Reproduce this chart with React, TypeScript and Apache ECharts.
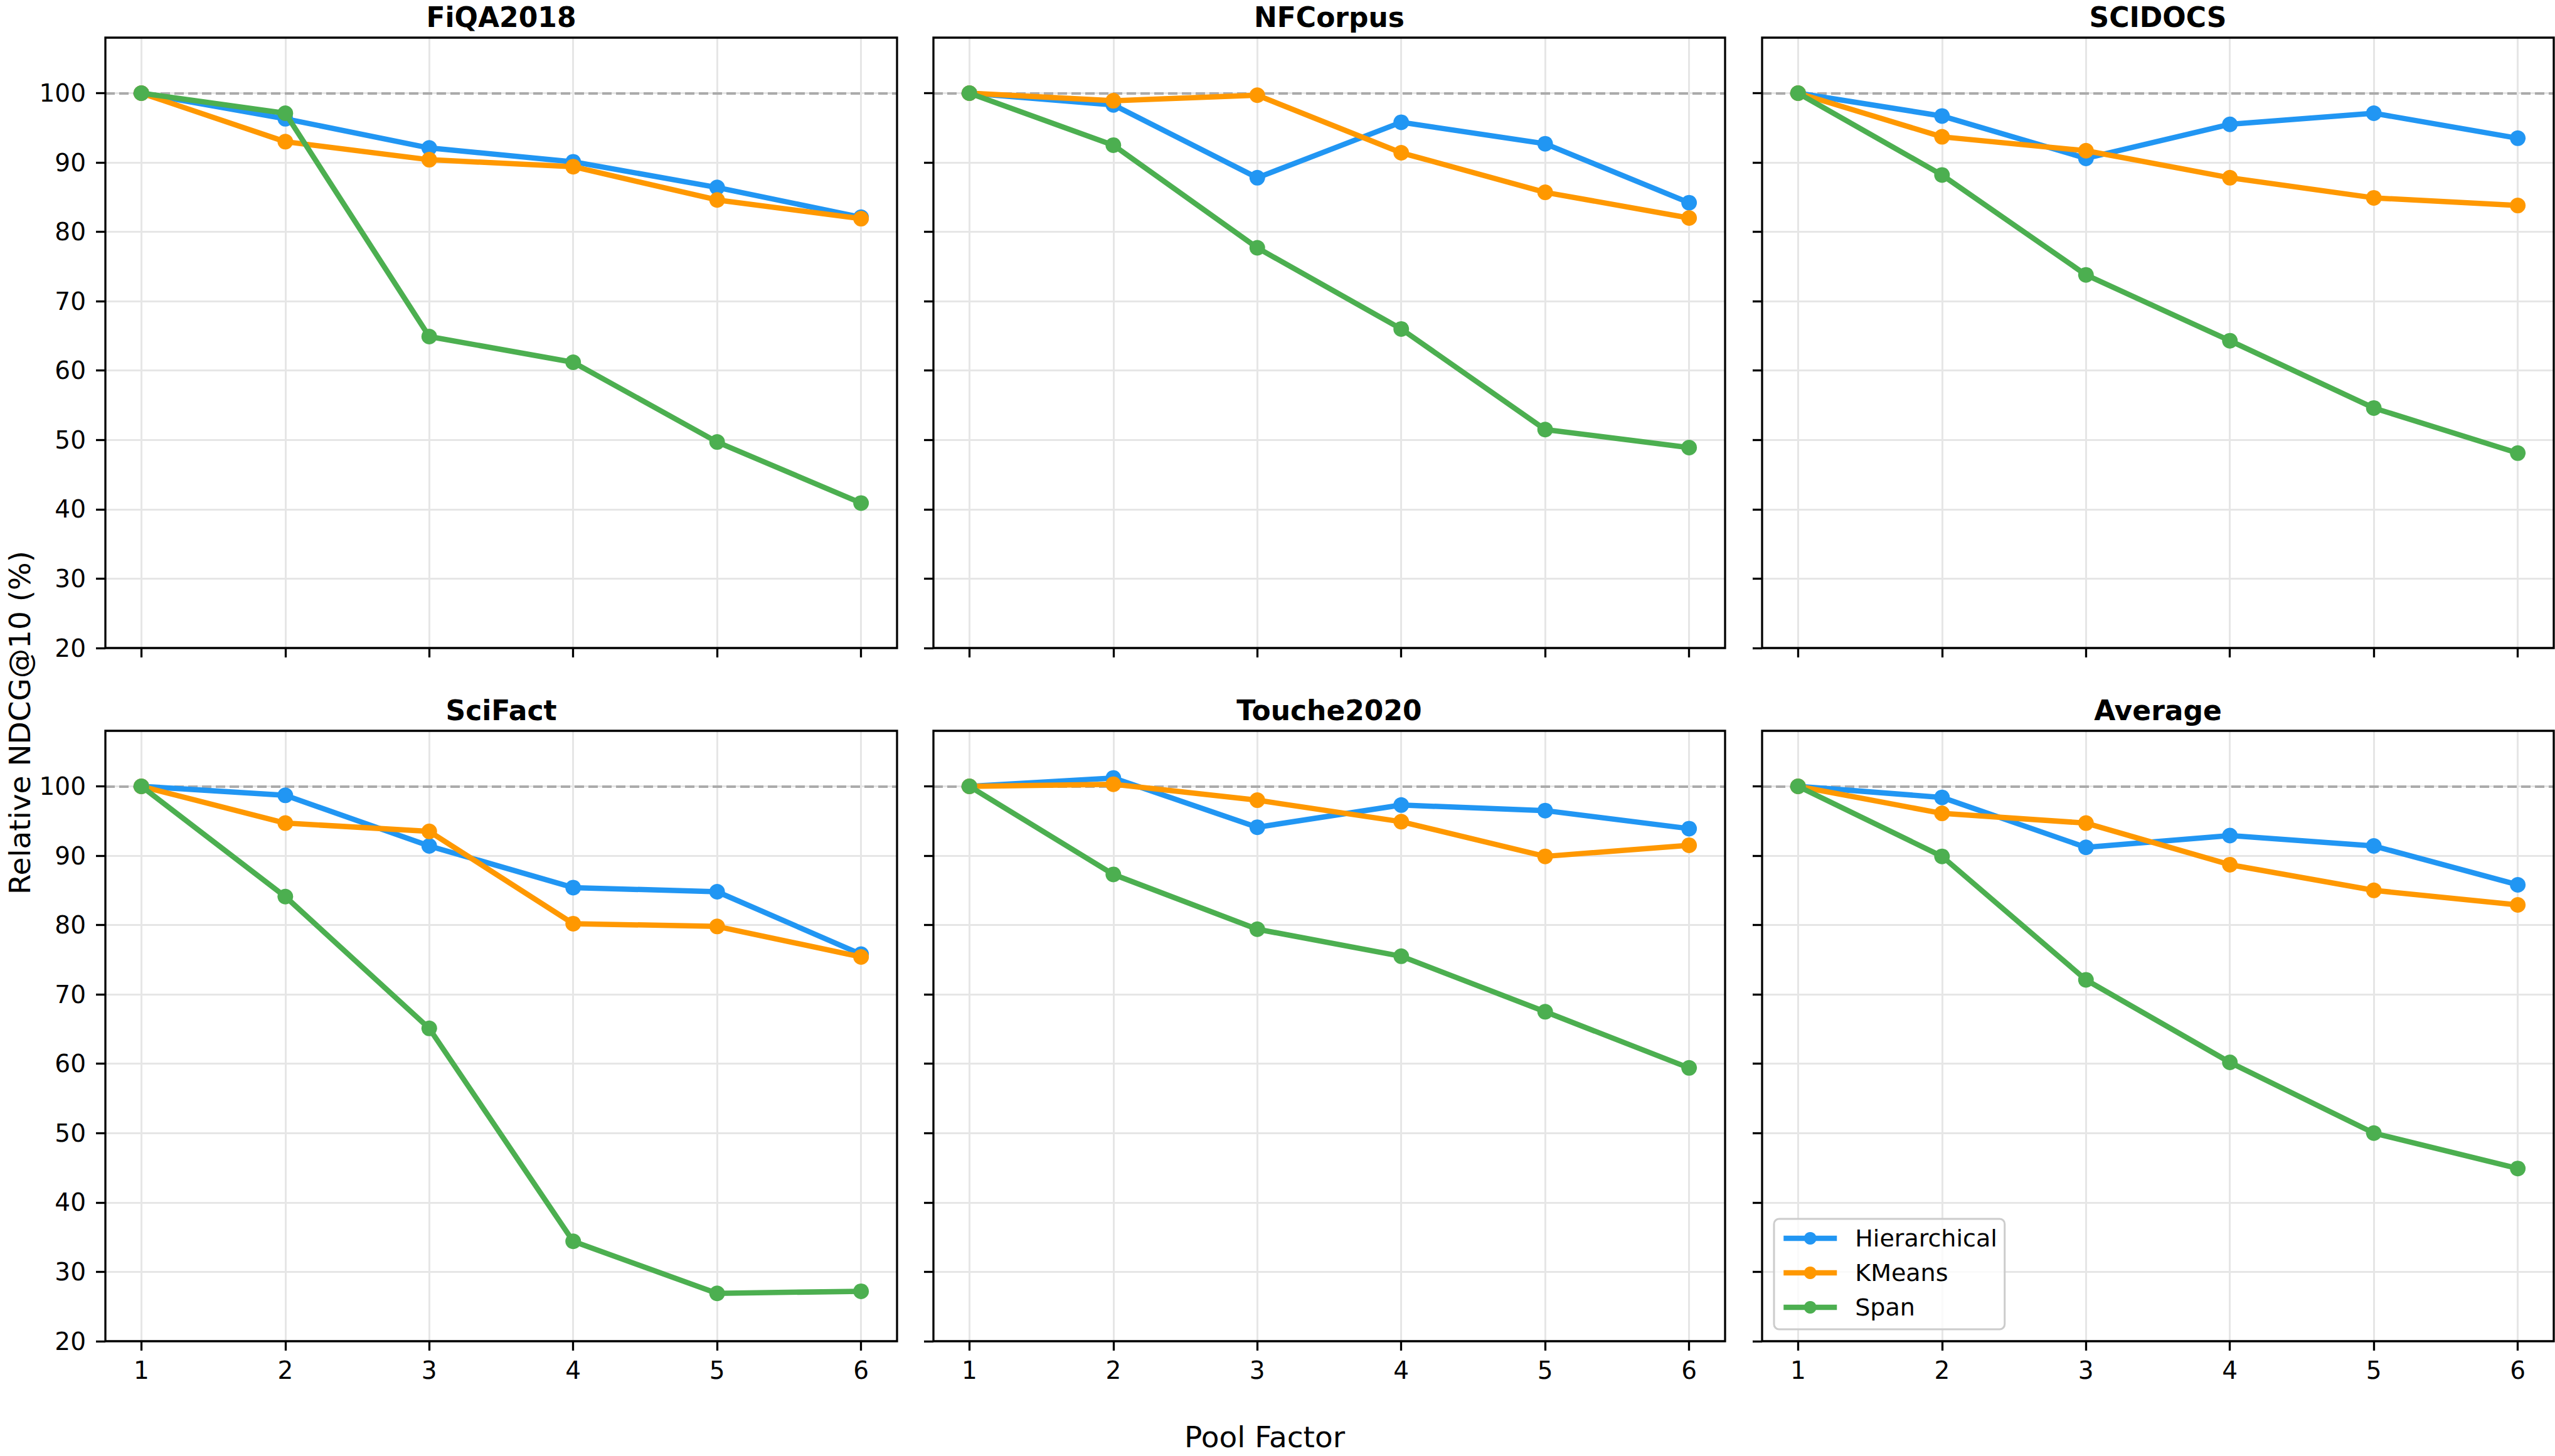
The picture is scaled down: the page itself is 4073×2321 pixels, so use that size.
import React, { useEffect, useRef } from 'react';
import * as echarts from 'echarts';

// ---------- data ----------
const poolFactors = [1, 2, 3, 4, 5, 6];
const datasetTitles = ['FiQA2018', 'NFCorpus', 'SCIDOCS', 'SciFact', 'Touche2020', 'Average'];
const methodNames = ['Hierarchical', 'KMeans', 'Span'];
const yTickValues = [20, 30, 40, 50, 60, 70, 80, 90, 100];
const xTickValues = [1, 2, 3, 4, 5, 6];
const referenceLevel = 100;

const hierarchicalValues = [
  [100, 96.3, 92.1, 90.1, 86.4, 82.1],
  [100, 98.3, 87.8, 95.8, 92.7, 84.2],
  [100, 96.7, 90.6, 95.5, 97.1, 93.5],
  [100, 98.7, 91.4, 85.4, 84.8, 75.8],
  [100, 101.2, 94.1, 97.3, 96.5, 93.9],
  [100, 98.4, 91.2, 92.9, 91.4, 85.8],
];
const kmeansValues = [
  [100, 93.0, 90.4, 89.4, 84.6, 81.9],
  [100, 98.9, 99.7, 91.4, 85.7, 82.0],
  [100, 93.7, 91.7, 87.8, 84.9, 83.8],
  [100, 94.7, 93.5, 80.2, 79.8, 75.4],
  [100, 100.3, 98.0, 94.9, 89.9, 91.5],
  [100, 96.1, 94.7, 88.7, 85.0, 82.9],
];
const spanValues = [
  [100, 97.1, 64.9, 61.2, 49.7, 40.9],
  [100, 92.5, 77.7, 66.0, 51.5, 48.9],
  [100, 88.2, 73.8, 64.3, 54.6, 48.1],
  [100, 84.1, 65.1, 34.4, 26.9, 27.2],
  [100, 87.3, 79.4, 75.5, 67.5, 59.4],
  [100, 89.9, 72.1, 60.2, 50.0, 44.9],
];

// ---------- styles / layout ----------
const methodValues = [hierarchicalValues, kmeansValues, spanValues];
const methodColors = ['#2196F3', '#FF9800', '#4CAF50'];
const FONT = 'DejaVu Sans';
const W = 4073;
const H = 2321;
const gridLefts = [168, 1488, 2809];
const gridTops = [60, 1165];
const gridW = 1262;
const gridH = 973;

export default function App() {
  const ref = useRef<HTMLDivElement>(null);

  useEffect(() => {
    if (!ref.current) return;
    const chart = echarts.init(ref.current, undefined, { renderer: 'svg' });

    const grids: any[] = [];
    const xAxes: any[] = [];
    const yAxes: any[] = [];
    const series: any[] = [];
    const graphics: any[] = [];

    datasetTitles.forEach((title, p) => {
      const row = Math.floor(p / 3);
      const col = p % 3;
      const left = gridLefts[col];
      const top = gridTops[row];
      grids.push({
        left,
        top,
        width: gridW,
        height: gridH,
        show: true,
        borderColor: '#000000',
        borderWidth: 3.3,
        backgroundColor: 'transparent',
        z: 5,
      });
      xAxes.push({
        type: 'value',
        gridIndex: p,
        min: 0.75,
        max: 6.25,
        axisLine: { show: false, onZero: false },
        axisTick: {
          show: true,
          inside: false,
          length: 15,
          lineStyle: { color: '#000000', width: 3.3 },
          customValues: xTickValues,
        },
        axisLabel: {
          show: row === 1,
          customValues: xTickValues,
          fontFamily: FONT,
          fontSize: 39,
          color: '#000000',
          margin: 27,
        },
        splitLine: { show: true, lineStyle: { color: '#e6e6e6', width: 3 } },
      });
      yAxes.push({
        type: 'value',
        gridIndex: p,
        min: 20,
        max: 108,
        axisLine: { show: false, onZero: false },
        axisTick: {
          show: true,
          inside: false,
          length: 15,
          lineStyle: { color: '#000000', width: 3.3 },
          customValues: yTickValues,
        },
        axisLabel: {
          show: col === 0,
          customValues: yTickValues,
          fontFamily: FONT,
          fontSize: 39,
          color: '#000000',
          margin: 31,
        },
        splitLine: { show: true, lineStyle: { color: '#e6e6e6', width: 3 } },
      });

      methodNames.forEach((name, m) => {
        const vals = methodValues[m][p];
        series.push({
          type: 'line',
          name,
          xAxisIndex: p,
          yAxisIndex: p,
          data: poolFactors.map((x, i) => [x, vals[i]]),
          symbol: 'circle',
          symbolSize: 25,
          showSymbol: true,
          lineStyle: { color: methodColors[m], width: 8.5 },
          itemStyle: { color: methodColors[m] },
          z: 10 + m,
          silent: true,
          markLine:
            m === 0
              ? {
                  silent: true,
                  symbol: ['none', 'none'],
                  label: { show: false },
                  lineStyle: { color: '#ababab', type: [15, 7], width: 4 },
                  data: [{ yAxis: referenceLevel }],
                  z: 2,
                }
              : undefined,
        });
      });

      graphics.push({
        type: 'text',
        x: left + gridW / 2,
        y: top - 33,
        style: {
          text: title,
          fontFamily: FONT,
          fontWeight: 'bold',
          fontSize: 44,
          fill: '#000000',
          align: 'center',
          verticalAlign: 'middle',
        },
      });
    });

    graphics.push({
      type: 'text',
      x: 2016,
      y: 2290,
      style: {
        text: 'Pool Factor',
        fontFamily: FONT,
        fontSize: 47,
        fill: '#000000',
        align: 'center',
        verticalAlign: 'middle',
      },
    });
    graphics.push({
      type: 'text',
      x: 31,
      y: 1152,
      rotation: Math.PI / 2,
      style: {
        text: 'Relative NDCG@10 (%)',
        fontFamily: FONT,
        fontSize: 47,
        fill: '#000000',
        align: 'center',
        verticalAlign: 'middle',
      },
    });

    chart.setOption({
      animation: false,
      backgroundColor: '#ffffff',
      grid: grids,
      xAxis: xAxes,
      yAxis: yAxes,
      series,
      legend: {
        data: methodNames,
        orient: 'vertical',
        left: 2828,
        top: 1943,
        padding: [12, 12, 16, 11],
        itemGap: 17,
        itemWidth: 85,
        itemHeight: 25,
        backgroundColor: 'rgba(255,255,255,0.8)',
        borderColor: '#cccccc',
        borderWidth: 3,
        borderRadius: 8,
        selectedMode: false,
        lineStyle: { width: 8.5 },
        textStyle: {
          fontFamily: FONT,
          fontSize: 38,
          lineHeight: 38,
          color: '#000000',
          padding: [0, 0, 0, 24],
        },
        z: 20,
      },
      graphic: graphics,
    });

    return () => {
      chart.dispose();
    };
  }, []);

  return (
    <div
      ref={ref}
      style={{ position: 'fixed', left: 0, top: 0, width: W, height: H, background: '#ffffff' }}
    />
  );
}
